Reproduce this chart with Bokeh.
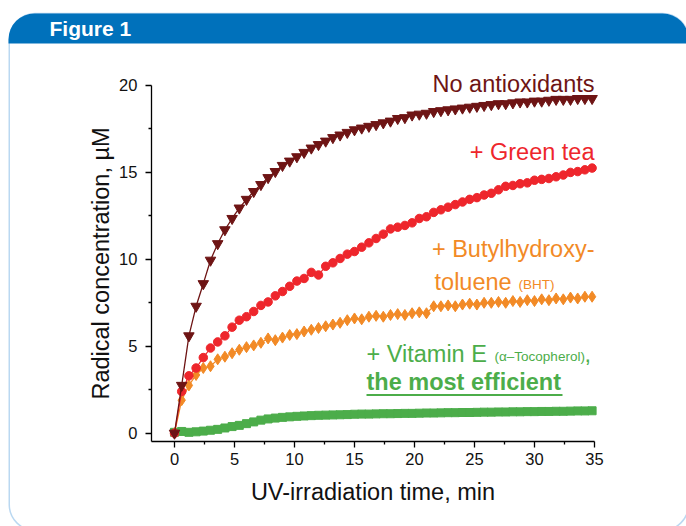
from bokeh.plotting import figure
from bokeh.models import FixedTicker, Label, BoxAnnotation
from bokeh.embed import file_html
from bokeh.resources import INLINE

# ---- data ----
time_min = [round(0.6 * i, 1) for i in range(59)]

no_antioxidants = [
    0, 2.75, 5.6, 7.3, 8.6, 9.95, 10.9, 11.7, 12.35, 12.95,
    13.45, 13.9, 14.3, 14.7, 15.05, 15.4, 15.65, 15.9, 16.15, 16.4,
    16.6, 16.8, 17.0, 17.15, 17.3, 17.45, 17.55, 17.65, 17.75, 17.85,
    17.95, 18.1, 18.15, 18.3, 18.35, 18.4, 18.5, 18.55, 18.6, 18.65,
    18.7, 18.75, 18.8, 18.85, 18.9, 18.95, 18.95, 19.0, 19.05, 19.05,
    19.1, 19.1, 19.15, 19.2, 19.2, 19.2, 19.25, 19.25, 19.25,
]
green_tea = [
    0, 2.4, 3.3, 3.75, 4.35, 4.9, 5.25, 5.6, 6.1, 6.5,
    6.7, 7.0, 7.35, 7.55, 7.9, 8.15, 8.45, 8.75, 8.9, 9.25,
    9.1, 9.6, 9.8, 10.05, 10.3, 10.45, 10.7, 10.95, 11.2, 11.45,
    11.75, 11.85, 11.95, 12.1, 12.35, 12.45, 12.7, 12.85, 13.0, 13.15,
    13.3, 13.45, 13.55, 13.7, 13.8, 14.0, 14.2, 14.25, 14.35, 14.4,
    14.55, 14.6, 14.65, 14.75, 14.85, 15.0, 15.05, 15.15, 15.25,
]
bht = [
    0, 1.9, 2.75, 3.35, 3.75, 3.85, 4.25, 4.4, 4.6, 4.8,
    4.95, 5.05, 5.2, 5.45, 5.35, 5.5, 5.65, 5.7, 5.85, 5.95,
    6.05, 6.15, 6.25, 6.35, 6.5, 6.6, 6.55, 6.7, 6.75, 6.7,
    6.8, 6.85, 6.8, 6.9, 6.95, 6.9, 7.3, 7.3, 7.35, 7.3,
    7.4, 7.45, 7.4, 7.5, 7.5, 7.55, 7.5, 7.6, 7.55, 7.65,
    7.6, 7.7, 7.65, 7.75, 7.7, 7.8, 7.75, 7.85, 7.85,
]
vitamin_e = [
    0.05, 0.1, 0.05, 0.08, 0.12, 0.17, 0.22, 0.3, 0.38, 0.45,
    0.55, 0.65, 0.75, 0.82, 0.87, 0.91, 0.94, 0.97, 0.99, 1.01,
    1.03, 1.04, 1.05, 1.06, 1.07, 1.09, 1.1, 1.1, 1.11, 1.12,
    1.12, 1.13, 1.14, 1.14, 1.15, 1.16, 1.16, 1.17, 1.18, 1.18,
    1.19, 1.19, 1.2, 1.21, 1.21, 1.22, 1.22, 1.23, 1.23, 1.24,
    1.24, 1.25, 1.25, 1.26, 1.26, 1.27, 1.28, 1.28, 1.29,
]
x_ticks = [0, 5, 10, 15, 20, 25, 30, 35]
x_minor = [2.5, 7.5, 12.5, 17.5, 22.5, 27.5, 32.5]
y_ticks = [0, 5, 10, 15, 20]
y_minor = [2.5, 7.5, 12.5, 17.5]
x_axis_span = (-1.92, 35)
y_axis_span = (-0.477, 20)

C_DARK = "#6e1414"
C_RED = "#ee262c"
C_ORANGE = "#f28a26"
C_GREEN = "#4cad4a"
BLUE = "#0071bb"
EDGE = "#1a7fcf"
FONT = "Liberation Sans"

W, H = 686, 526
# the frame covers the whole canvas; axes are pinned inside it (fixed_location)
p = figure(width=W, height=H, output_backend="svg", toolbar_location=None,
           title=None, x_range=(-14.5, 42.667), y_range=(-5.367, 24.889),
           min_border=0, min_border_left=0, min_border_right=0,
           min_border_top=0, min_border_bottom=0)
p.xgrid.visible = False
p.ygrid.visible = False
p.outline_line_color = None

def cbox(left, right, top, bottom, **kw):
    return BoxAnnotation(left=left, right=right, top=top, bottom=bottom,
                         left_units="canvas", right_units="canvas",
                         top_units="canvas", bottom_units="canvas", **kw)

# frame decoration: rounded outline and blue header band
p.add_layout(cbox(8.75, 688, 13, 530, fill_color=None, line_color=EDGE,
                  line_width=1.5, border_radius=26))
p.add_layout(cbox(8, 688, 13, 43, fill_color=BLUE, fill_alpha=1, line_color=None,
                  border_radius=dict(top_left=26, top_right=26, bottom_right=0, bottom_left=0)))
p.add_layout(Label(x=49, y=28, x_units="canvas", y_units="canvas", text="Figure 1",
                   text_font=FONT, text_font_style="bold", text_font_size="21px",
                   text_color="white", text_align="left", text_baseline="alphabetic"))

# axes
for ax, tk, mn, loc, bnd in ((p.xaxis[0], x_ticks, x_minor, y_axis_span[0], x_axis_span),
                             (p.yaxis[0], y_ticks, y_minor, x_axis_span[0], y_axis_span)):
    ax.ticker = FixedTicker(ticks=tk, minor_ticks=mn)
    ax.fixed_location = loc
    ax.bounds = bnd
    ax.major_tick_in = 0
    ax.major_tick_out = 6
    ax.minor_tick_in = 0
    ax.minor_tick_out = 3
    ax.axis_line_width = 1.3
    ax.major_tick_line_width = 1.3
    ax.minor_tick_line_width = 1.3
    ax.major_label_text_font = FONT
    ax.major_label_text_font_size = "16.5px"
    ax.major_label_text_color = "#111111"
    ax.axis_label_text_font = FONT
    ax.axis_label_text_font_size = "23.5px"
    ax.axis_label_text_font_style = "normal"
    ax.axis_label_text_color = "#111111"
p.xaxis.axis_label = "UV-irradiation time, min"
p.yaxis.axis_label = "Radical concentration, µM"
p.xaxis.major_label_standoff = 6
p.yaxis.major_label_standoff = 8
p.xaxis.axis_label_standoff = 10
p.yaxis.axis_label_standoff = 2

# series
p.line(time_min, vitamin_e, line_color=C_GREEN, line_width=1.2)
p.scatter(time_min, vitamin_e, marker="square", size=8, fill_color=C_GREEN, line_color=C_GREEN)
p.line(time_min, bht, line_color=C_ORANGE, line_width=1.2)
p.scatter(time_min, bht, marker="diamond", size=11, fill_color=C_ORANGE, line_color=C_ORANGE)
p.line(time_min, green_tea, line_color=C_RED, line_width=1.2)
p.scatter(time_min, green_tea, marker="circle", size=8.5, fill_color=C_RED, line_color=C_RED)
p.line(time_min, no_antioxidants, line_color=C_DARK, line_width=1.3)
p.scatter(time_min, no_antioxidants, marker="inverted_triangle", size=10.5, fill_color=C_DARK, line_color=C_DARK)

def lab(x, y, text, color, size="23.5px", align="left", style="normal"):
    p.add_layout(Label(x=x, y=y, text=text, text_color=color, text_font=FONT,
                       text_font_size=size, text_align=align, text_font_style=style,
                       text_baseline="alphabetic"))

lab(35, 20.07, "No antioxidants", C_DARK, align="right")
lab(35, 16.19, "+ Green tea", C_RED, align="right")
lab(35, 10.62, "+ Butylhydroxy-", C_ORANGE, align="right")
lab(21.67, 8.69, "toluene", C_ORANGE)
lab(28.67, 8.54, "(BHT)", C_ORANGE, size="13.5px")
lab(16.0, 4.58, "+ Vitamin E", C_GREEN)
lab(26.67, 4.385, "(α–Tocopherol)", C_GREEN, size="13.5px")
lab(34.17, 4.58, ",", C_GREEN)
lab(16.0, 2.92, "the most efficient", C_GREEN, style="bold")
p.add_layout(cbox(366, 562, 393.5, 395.5, fill_color=C_GREEN, fill_alpha=1, line_color=None))

open("out.html", "w").write(file_html(p, INLINE))
